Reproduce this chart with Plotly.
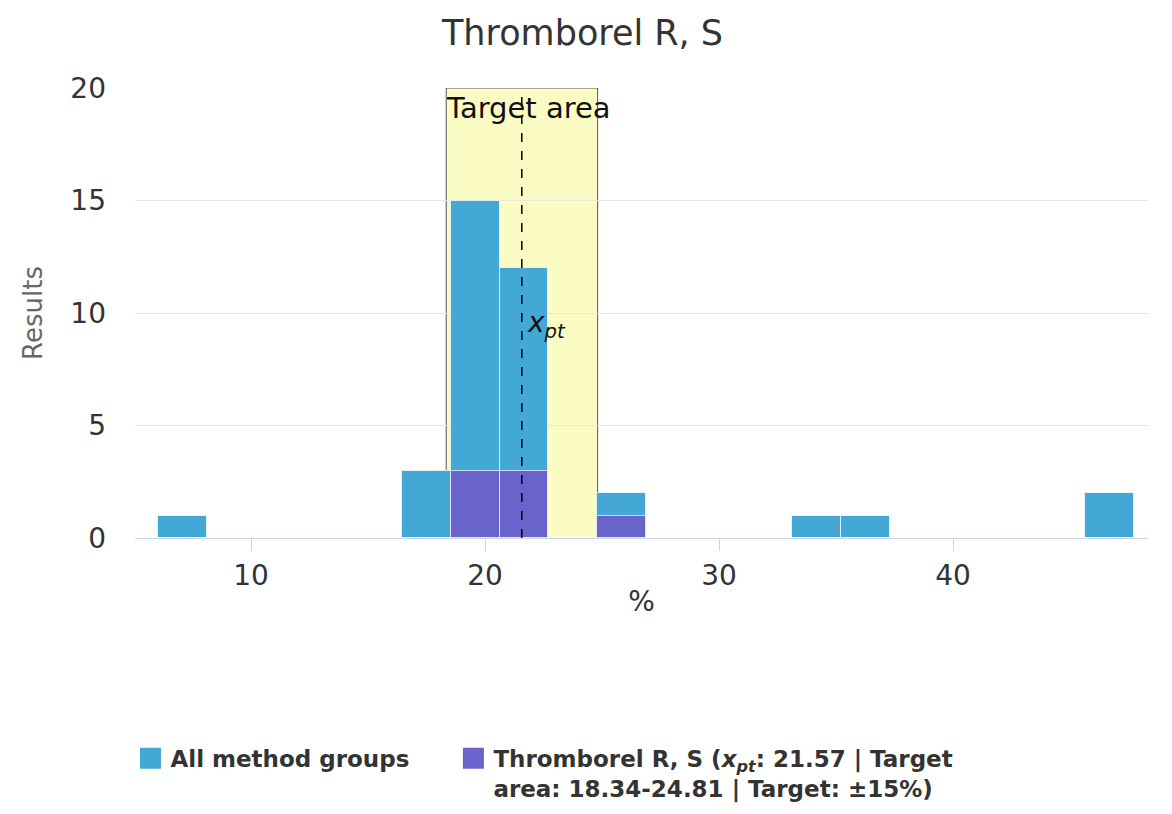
import plotly.graph_objects as go

# ─── Data ────────────────────────────────────────────────────────────
bin_start = 6.03
bin_width = 2.085
all_counts = [1, 0, 0, 0, 0, 3, 15, 12, 0, 2, 0, 0, 0, 1, 1, 0, 0, 0, 0, 2]
group_counts = [0, 0, 0, 0, 0, 0, 3, 3, 0, 1, 0, 0, 0, 0, 0, 0, 0, 0, 0, 0]

x_pt = 21.57
target_low = 18.34
target_high = 24.81
target_pct = 15

BLUE = "#43a8d5"
PURPLE = "#6a63cb"
FONT = "DejaVu Sans"

centers = [bin_start + (i + 0.5) * bin_width for i in range(len(all_counts))]

fig = go.Figure()

fig.add_trace(go.Bar(
    x=centers, y=all_counts, width=bin_width,
    marker=dict(color=BLUE, line=dict(color="rgba(255,255,255,0.7)", width=1)),
    name="All method groups", showlegend=False,
))
fig.add_trace(go.Bar(
    x=centers, y=group_counts, width=bin_width,
    marker=dict(color=PURPLE, line=dict(color="rgba(255,255,255,0.7)", width=1)),
    name="Thromborel R, S", showlegend=False,
))

# legend proxies (bigger squares than the bar legend glyph)
fig.add_trace(go.Scatter(
    x=[None], y=[None], mode="markers",
    marker=dict(symbol="square", size=16, color=BLUE, line=dict(color=BLUE, width=5)),
    name="All method groups", legend="legend",
))
fig.add_trace(go.Scatter(
    x=[None], y=[None], mode="markers",
    marker=dict(symbol="square", size=16, color=PURPLE, line=dict(color=PURPLE, width=5)),
    name=(f"Thromborel R, S (<i>x<sub>pt</sub></i>: {x_pt} | Target<br>"
          f"area: {target_low}-{target_high} | Target: ±{target_pct}%)"),
    legend="legend2",
))

# target area band
fig.add_shape(type="rect", xref="x", yref="y",
              x0=target_low, x1=target_high, y0=0, y1=20,
              fillcolor="#fbfcc4", line=dict(color="#555555", width=1),
              layer="below")
fig.add_shape(type="line", xref="x", yref="y",
              x0=x_pt, x1=x_pt, y0=0, y1=20,
              line=dict(color="#000000", width=1.5, dash="dash"))

fig.add_annotation(x=target_low, y=20, xref="x", yref="y",
                   text="Target area", showarrow=False,
                   xanchor="left", yanchor="top", xshift=-2, yshift=-1,
                   font=dict(family=FONT, size=29, color="#111111"))
fig.add_annotation(x=x_pt, y=9.5, xref="x", yref="y",
                   text="<i>x<sub>pt</sub></i>", showarrow=False,
                   xanchor="left", yanchor="middle", xshift=3,
                   font=dict(family=FONT, size=28, color="#111111"))

legend_font = dict(family=FONT, size=23, color="#333333", weight="bold")

fig.update_layout(
    width=1156, height=798,
    paper_bgcolor="white", plot_bgcolor="white",
    barmode="overlay", bargap=0,
    margin=dict(l=127, r=16, t=80, b=268, autoexpand=False),
    font=dict(family=FONT, color="#333333"),
    title=dict(text="Thromborel R, S", x=0.497, xanchor="center",
               y=0.969, yanchor="middle",
               font=dict(family=FONT, size=35, color="#333333")),
    legend=dict(orientation="h", x=-0.0045, y=-0.442, xanchor="left", yanchor="top",
                valign="top", font=legend_font, itemwidth=30),
    legend2=dict(orientation="h", x=0.3143, y=-0.442, xanchor="left", yanchor="top",
                 valign="top", font=legend_font, itemwidth=30),
)

fig.update_xaxes(
    range=[5.04, 48.33], tick0=0, dtick=10,
    showgrid=False, zeroline=False,
    showline=True, linecolor="#ccd6eb", linewidth=1,
    ticks="outside", tickcolor="#ccd6eb", ticklen=12,
    tickfont=dict(family=FONT, size=28, color="#333333"),
    title=dict(text="%", font=dict(family=FONT, size=28, color="#333333"), standoff=0),
)
fig.update_yaxes(
    range=[0, 20], dtick=5,
    showgrid=True, gridcolor="#e6e6e6", zeroline=False,
    ticks="", ticklabelstandoff=28,
    tickfont=dict(family=FONT, size=28, color="#333333"),
    title=dict(text="Results", font=dict(family=FONT, size=26, color="#666666"), standoff=20),
)

fig.write_html("out.html")
